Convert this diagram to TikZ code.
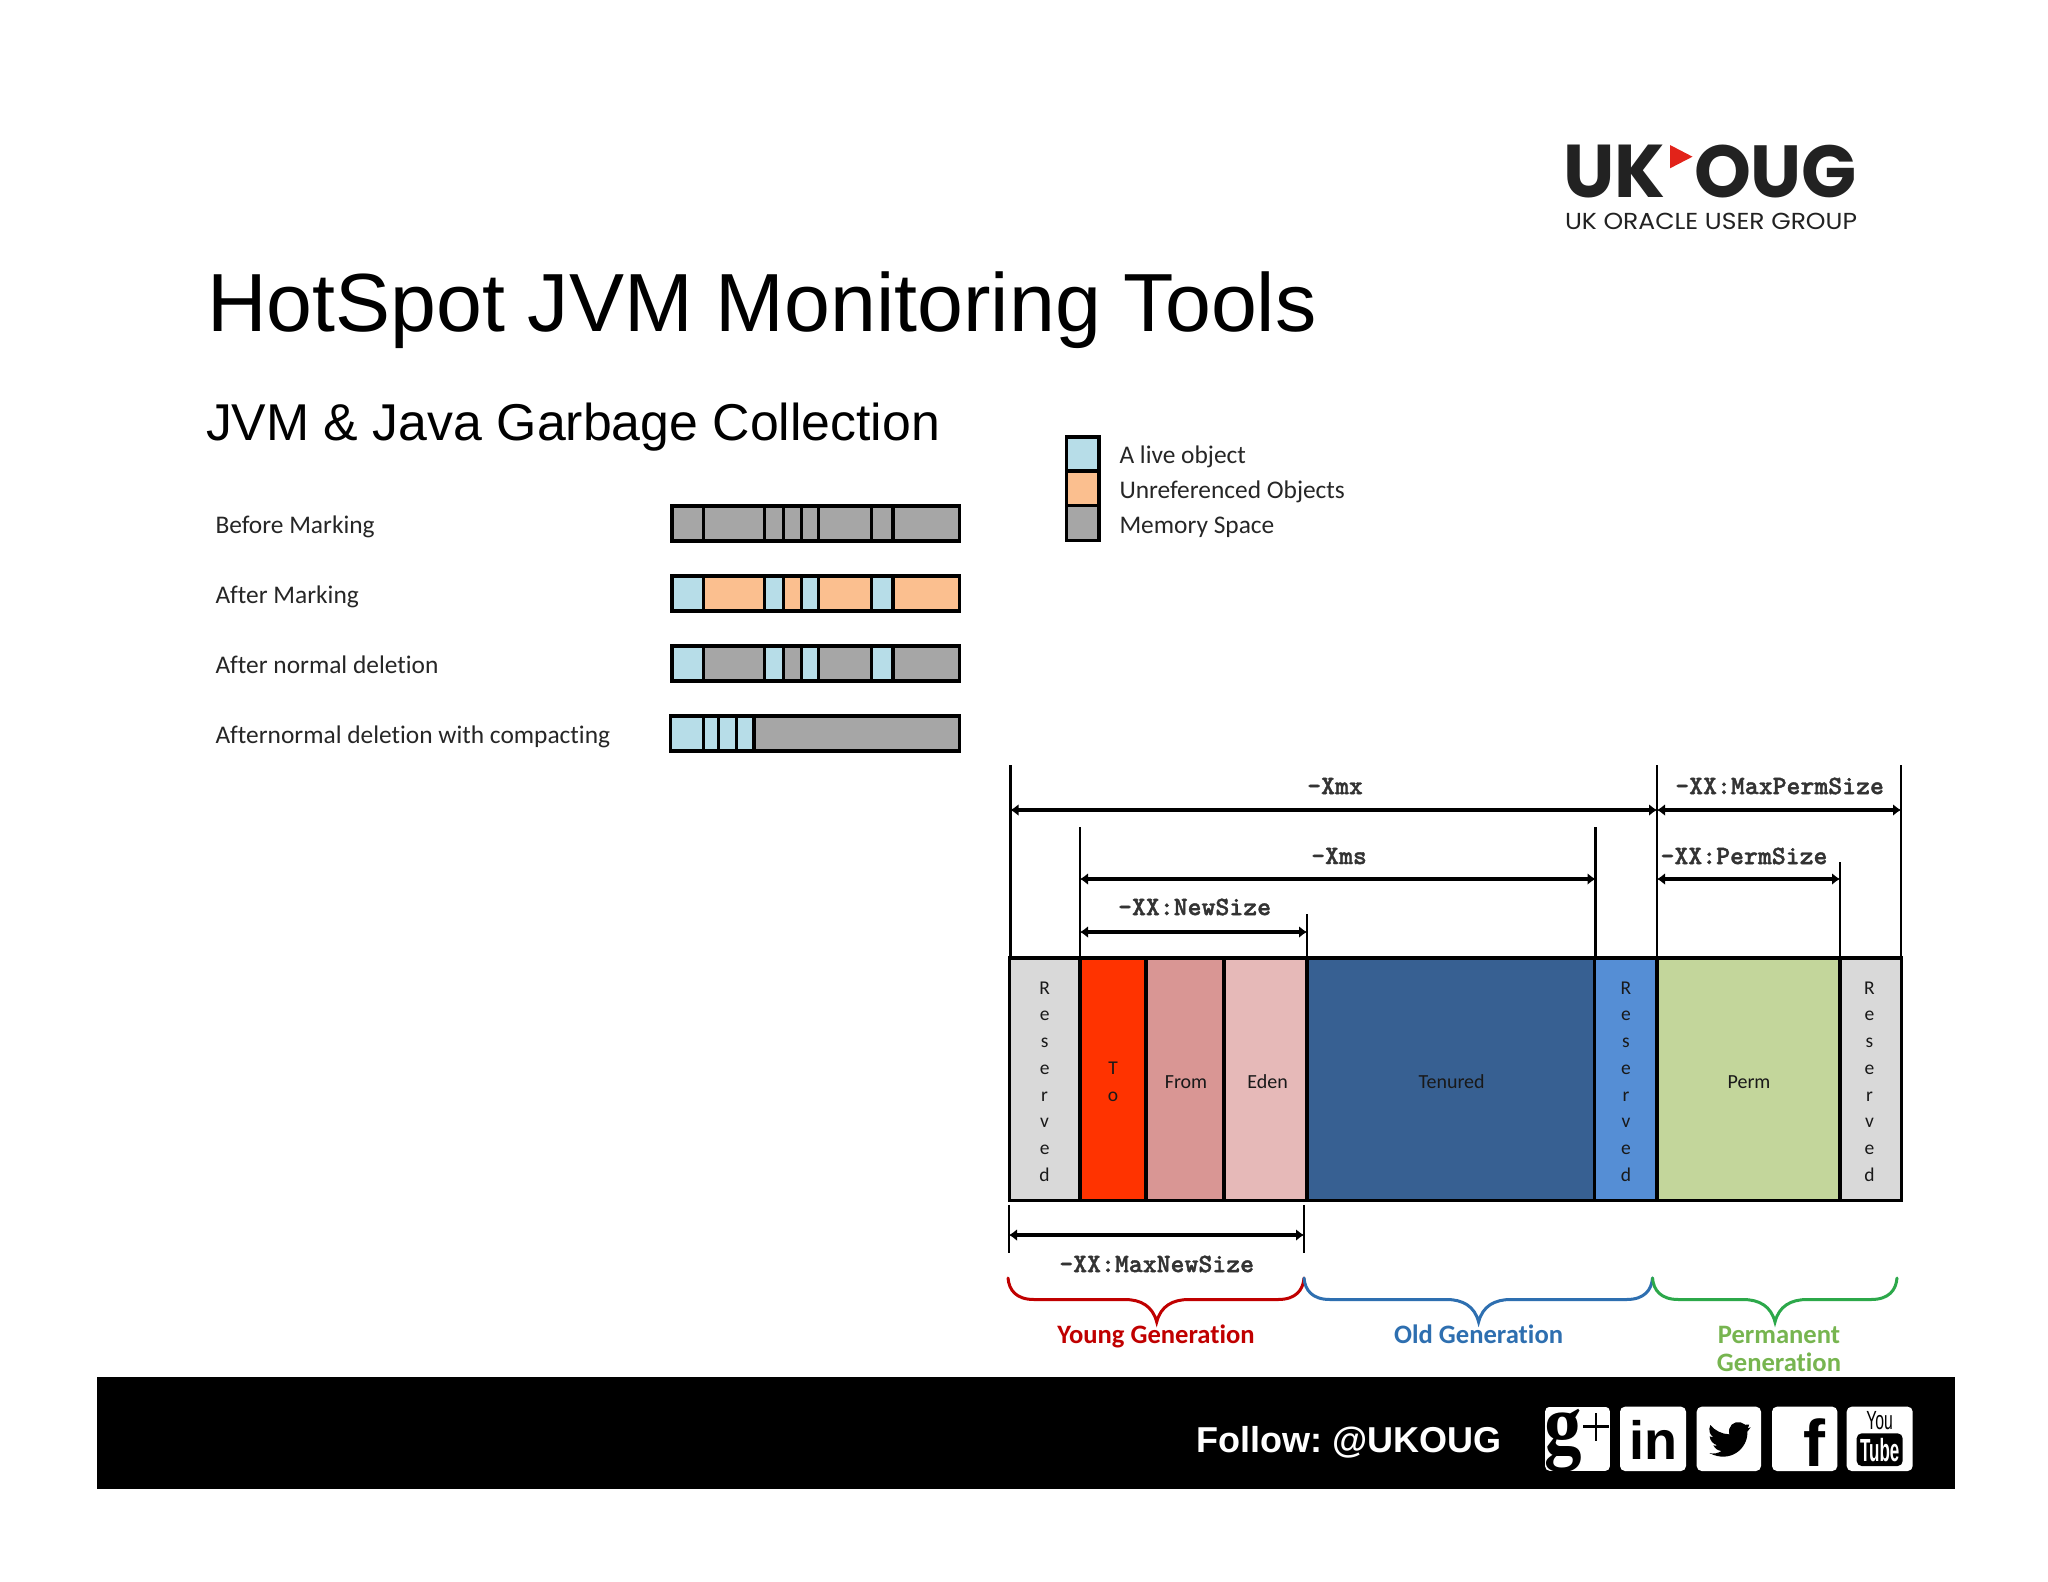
\documentclass[tikz,border=0pt]{standalone}
\usepackage{fontspec}
\usepackage{graphicx}
\usetikzlibrary{arrows.meta}
\setmainfont[Ligatures=NoCommon]{Carlito}
\newfontfamily\arialf{Liberation Sans}
\newfontfamily\logof{Poppins}
\newfontfamily\serf{Liberation Serif}
\newfontfamily\dimf[FakeBold=1.4,Extension=.otf]{lmmonolt10-bold}
\newcommand{\fsz}[2]{\fontsize{#1}{#2}\selectfont}
\definecolor{live}{HTML}{B7DDE8}
\definecolor{unref}{HTML}{FBBF8F}
\definecolor{mem}{HTML}{A6A6A6}
\definecolor{resgray}{HTML}{D9D9D9}
\definecolor{toc}{HTML}{FF3300}
\definecolor{fromc}{HTML}{D99694}
\definecolor{edenc}{HTML}{E6B9B8}
\definecolor{tenc}{HTML}{376092}
\definecolor{resblue}{HTML}{558ED5}
\definecolor{permc}{HTML}{C3D69B}
\definecolor{youngc}{HTML}{C00000}
\definecolor{oldc}{HTML}{2E6FB0}
\definecolor{permtxt}{HTML}{77B550}
\definecolor{permbr}{HTML}{2CA84A}
\definecolor{logoc}{HTML}{222222}
\definecolor{logored}{HTML}{E2231A}
\tikzset{
  every node/.style={inner sep=0pt,outer sep=0pt},
  barline/.style={draw=black,line width=3.5pt},
  rowlabel/.style={anchor=base west,font=\fsz{25.4}{28},text=black!85},
  leglabel/.style={anchor=base west,font=\fsz{25.4}{28},text=black!85},
  seglabel/.style={anchor=base,font=\fsz{20}{22},text=black!90},
  stacklabel/.style={align=center,font=\fsz{19.5}{26.7},text=black!90},
  seg/.style={draw=black,line width=3.4pt},
  guide/.style={draw=black,line width=2.8pt},
  dimarrow/.style={draw=black,line width=3.6pt,{Latex[length=8pt,width=12pt]}-{Latex[length=8pt,width=12pt]}},
  dimlabel/.style={font=\dimf\fsz{26.5}{28},text=black!80},
  genlabel/.style={font=\bfseries\fsz{26.6}{28.7}},
  brace/.style={line width=3pt,line cap=round,fill=none},
  icon/.style={fill=white,rounded corners=5pt},
}
\newcommand{\barrow}[4]{% top, bottom, left, list of x/x/color
  \foreach \xa/\xb/\c in {#4}{\fill[\c] (\xa,#1) rectangle (\xb,#2);}
  \foreach \xa/\xb/\c in {#4}{\draw[barline] (\xa,#1) -- (\xa,#2);}
  \draw[barline] (#3,#1) rectangle (959.3,#2);
}
\newcommand{\brc}[5]{% left x, tip x, right x, color, name
  \coordinate (#5l) at (#1,1278);
  \coordinate (#5t) at (#2,1322);
  \coordinate (#5r) at (#3,1278);
  \draw[brace,draw=#4] (#5l) .. controls (#1+1,1290) and (#1+8,1299.5) .. (#1+26,1299.5)
    -- (#2-32,1299.5) .. controls (#2-16,1299.5) and (#2-4,1306) .. (#5t)
    .. controls (#2+4,1306) and (#2+16,1299.5) .. (#2+32,1299.5)
    -- (#3-26,1299.5) .. controls (#3-8,1299.5) and (#3-1,1290) .. (#5r);
}
\begin{document}
\begin{tikzpicture}[x=1pt,y=-1pt]
\useasboundingbox (0,0) rectangle (2048,1582);
\fill[white] (0,0) rectangle (2048,1582);

% Logo
\node[anchor=north west,text=logoc] (logouk) at (1563,145) {\resizebox*{102pt}{53pt}{\logof\bfseries UK}};
\node[anchor=north west,text=logoc] (logooug) at (1694,145) {\resizebox*{163pt}{53pt}{\logof\bfseries OUG}};
\fill[logored] (1670,145) -- (1692.5,156.7) -- (1670,168.3) -- cycle;
\node[anchor=north west,text=logoc] (logosub) at (1565,213) {\resizebox*{292pt}{16.5pt}{\logof UK ORACLE USER GROUP}};

% Titles
\node[anchor=base west,font=\arialf\fsz{82.5}{90}] (title) at (207,331) {HotSpot JVM Monitoring Tools};
\node[anchor=base west,font=\arialf\fsz{51.8}{56}] (subtitle) at (206,440) {JVM \& Java Garbage Collection};

% Rows
\node[rowlabel] (r1) at (215.5,533) {Before Marking};
\node[rowlabel] (r2) at (215.5,603) {After Marking};
\node[rowlabel] (r3) at (215.5,673) {After normal deletion};
\node[rowlabel] (r4) at (215.5,743) {Afternormal deletion with compacting};

\barrow{506}{541}{672}{672/703.3/mem,703.3/764.5/mem,764.5/783.4/mem,783.4/801.7/mem,801.7/818.6/mem,818.6/871.6/mem,871.6/893/mem,893/959.3/mem}
\barrow{576}{611}{672}{672/703.3/live,703.3/764.5/unref,764.5/783.4/live,783.4/801.7/unref,801.7/818.6/live,818.6/871.6/unref,871.6/893/live,893/959.3/unref}
\barrow{646}{681}{672}{672/703.3/live,703.3/764.5/mem,764.5/783.4/live,783.4/801.7/mem,801.7/818.6/live,818.6/871.6/mem,871.6/893/live,893/959.3/mem}
\barrow{716}{751}{670.5}{670.5/703.3/live,703.3/718.6/live,718.6/736.4/live,736.4/753.8/live,753.8/959.3/mem}

% Legend
\draw[barline,fill=live] (1066.3,437) rectangle (1098.8,471);
\draw[barline,fill=unref] (1066.3,471) rectangle (1098.8,505.7);
\draw[barline,fill=mem] (1066.3,505.7) rectangle (1098.8,540.3);
\node[leglabel] (l1) at (1119.5,463) {A live object};
\node[leglabel] (l2) at (1119.5,498) {Unreferenced Objects};
\node[leglabel] (l3) at (1119.5,533) {Memory Space};

% Heap segments
\draw[seg,fill=resgray] (1009.5,958) rectangle (1080,1200.7);
\draw[seg,fill=toc] (1080,958) rectangle (1146,1200.7);
\draw[seg,fill=fromc] (1146,958) rectangle (1224,1200.7);
\draw[seg,fill=edenc] (1224,958) rectangle (1307,1200.7);
\draw[seg,fill=tenc] (1307,958) rectangle (1594.5,1200.7);
\draw[seg,fill=resblue] (1594.5,958) rectangle (1657,1200.7);
\draw[seg,fill=permc] (1657,958) rectangle (1840,1200.7);
\draw[seg,fill=resgray] (1840,958) rectangle (1901.5,1200.7);

\node[stacklabel] (s1) at (1044.6,1081.5) {R\\e\\s\\e\\r\\v\\e\\d};
\node[stacklabel] (s2) at (1113,1081.5) {T\\o};
\node[seglabel] (s3) at (1186,1088.5) {From};
\node[seglabel] (s4) at (1267.6,1088.5) {Eden};
\node[seglabel] (s5) at (1451.6,1088.5) {Tenured};
\node[stacklabel] (s6) at (1626,1081.5) {R\\e\\s\\e\\r\\v\\e\\d};
\node[seglabel] (s7) at (1749,1088.5) {Perm};
\node[stacklabel] (s8) at (1869.5,1081.5) {R\\e\\s\\e\\r\\v\\e\\d};

% Guide lines
\coordinate (g1t) at (1010.5,765);  \coordinate (g1b) at (1010.5,958);
\coordinate (g2t) at (1080,827);    \coordinate (g2b) at (1080,958);
\coordinate (g3t) at (1595.5,827);  \coordinate (g3b) at (1595.5,958);
\coordinate (g4t) at (1657,765);    \coordinate (g4b) at (1657,958);
\coordinate (g5t) at (1901,765);    \coordinate (g5b) at (1901,958);
\coordinate (g6t) at (1307,914);    \coordinate (g6b) at (1307,958);
\coordinate (g7t) at (1840,862);    \coordinate (g7b) at (1840,958);
\coordinate (g8t) at (1009,1205);   \coordinate (g8b) at (1009,1253);
\coordinate (g9t) at (1304,1205);   \coordinate (g9b) at (1304,1253);
\foreach \g in {1,...,9}{\draw[guide] (g\g t) -- (g\g b);}

% Dimension arrows
\coordinate (axl) at (1010.5,810);  \coordinate (axr) at (1657,810);
\coordinate (apl) at (1657,810);    \coordinate (apr) at (1901,810);
\coordinate (asl) at (1080,879);    \coordinate (asr) at (1595.5,879);
\coordinate (ppl) at (1657,879);    \coordinate (ppr) at (1840,879);
\coordinate (nsl) at (1080,932);    \coordinate (nsr) at (1307,932);
\coordinate (mnl) at (1009,1235);   \coordinate (mnr) at (1304,1235);
\draw[dimarrow] (axl) -- (axr);
\draw[dimarrow] (apl) -- (apr);
\draw[dimarrow] (asl) -- (asr);
\draw[dimarrow] (ppl) -- (ppr);
\draw[dimarrow] (nsl) -- (nsr);
\draw[dimarrow] (mnl) -- (mnr);

\node[dimlabel] (d1) at (1335,786) {-Xmx};
\node[dimlabel] (d2) at (1779.6,786) {-XX:MaxPermSize};
\node[dimlabel] (d3) at (1339,856) {-Xms};
\node[dimlabel] (d4) at (1744,856) {-XX:PermSize};
\node[dimlabel] (d5) at (1194.6,907) {-XX:NewSize};
\node[dimlabel] (d6) at (1156.7,1264) {-XX:MaxNewSize};

% Braces
\brc{1008}{1156.7}{1304}{youngc}{by}
\brc{1304}{1478.6}{1652.5}{oldc}{bo}
\brc{1652.5}{1775}{1897}{permbr}{bp}

\node[genlabel,anchor=base,text=youngc] (gy) at (1156,1343) {Young Generation};
\node[genlabel,anchor=base,text=oldc] (go) at (1478.6,1343) {Old Generation};
\node[genlabel,anchor=north,align=center,text=permtxt] (gp) at (1779,1326) {Permanent\\Generation};

% Footer band
\fill[black] (97,1377) rectangle (1955,1489);
\node[anchor=west,font=\arialf\bfseries\fsz{36}{40},text=white] (follow) at (1196.5,1442.5) {Follow:\hspace{-3pt} @UKOUG};

% Icons
\begin{scope}[shift={(1500,1380)},x=0.33333pt,y=-0.33333pt]
  % g+
  \begin{scope}
    \path[clip,rounded corners=5pt] (135,80) rectangle (330,273);
    \fill[white] (135,80) rectangle (330,273);
    \node[anchor=base,font=\serf\bfseries\fsz{75}{80},text=black,yscale=1.15] (gicon) at (190,220) {g};
    \draw[black,line width=2.8pt] (250,140) -- (328,140);
    \draw[black,line width=2.8pt] (288,100) -- (288,182);
  \end{scope}
  % in
  \fill[icon] (360,80) rectangle (558,273);
  \node[anchor=base,font=\arialf\bfseries\fsz{54}{56},text=black] (inicon) at (459,238) {in};
  % twitter
  \fill[icon] (590,80) rectangle (783,273);
  \fill[black] (747,134) .. controls (738,138) and (735,133) .. (722,127)
    .. controls (702,122) and (682,138) .. (688,163)
    .. controls (665,162) and (645,152) .. (631,135)
    .. controls (624,150) and (630,165) .. (640,172)
    .. controls (636,172) and (632,171) .. (629,169)
    .. controls (630,183) and (640,192) .. (652,196)
    .. controls (647,197) and (643,197) .. (640,196)
    .. controls (645,206) and (654,212) .. (665,213)
    .. controls (655,219) and (642,223) .. (628,219)
    .. controls (690,252) and (745,205) .. (742,155)
    .. controls (746,151) and (749,147) .. (752,142)
    .. controls (749,144) and (745,145) .. (742,145)
    .. controls (745,143) and (747,138) .. (747,134) -- cycle;
  % f
  \fill[icon] (816,80) rectangle (1012,273);
  \node[anchor=base,font=\arialf\bfseries\fsz{66}{66},text=black] (ficon) at (944,258) {f};
  % YouTube
  \fill[icon] (1040,80) rectangle (1238,273);
  \node[font=\arialf\fsz{21}{22},text=black,xscale=0.75,yscale=1.25] (you) at (1139,123) {You};
  \fill[black,rounded corners=5pt] (1070,160) rectangle (1208,258);
  \node[font=\arialf\bfseries\fsz{25}{26},text=white,xscale=0.68,yscale=1.28] (tube) at (1139,210) {Tube};
\end{scope}
\end{tikzpicture}
\end{document}
